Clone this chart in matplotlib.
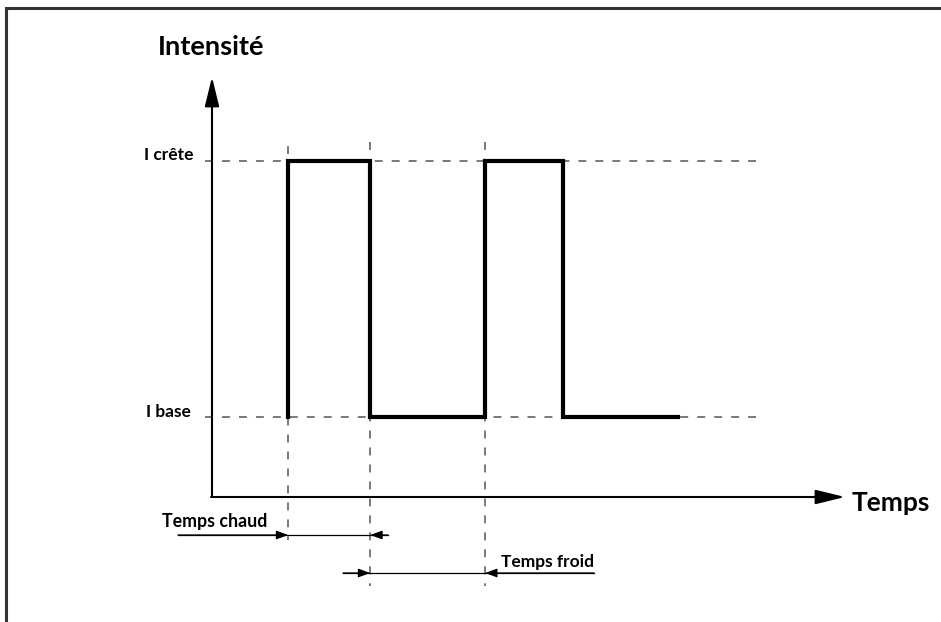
import matplotlib
matplotlib.use("Agg")
import matplotlib.pyplot as plt
from matplotlib.lines import Line2D

# ---- data (diagram values) ----
level_names = ["I crête", "I base"]
I_crete = 4.2
I_base = 1.0
pulse_times = [0.93, 1.93, 3.33, 4.28, 5.68]   # rise1, fall1, rise2, fall2, end
wave_t = [pulse_times[0], pulse_times[0], pulse_times[1], pulse_times[1],
          pulse_times[2], pulse_times[2], pulse_times[3], pulse_times[3], pulse_times[4]]
wave_i = [I_base, I_crete, I_crete, I_base, I_base, I_crete, I_crete, I_base, I_base]
axis_labels = ["Intensité", "Temps"]
interval_labels = ["Temps chaud", "Temps froid"]

W, H, DPI = 941, 622, 100
fig = plt.figure(figsize=(W / DPI, H / DPI), dpi=DPI)
ax = fig.add_axes([0, 0, 1, 1])
# pixel mapping: x_px = 212 + 82 t ; y_px(from top) = 497 - 80 I
ax.set_xlim(-212 / 82, (W - 212) / 82)
ax.set_ylim(-(H - 497) / 80, 497 / 80)
ax.axis("off")

def px_t(x):
    return (x - 212) / 82
def px_i(y):
    return (497 - y) / 80

FN = ["Lato", "DejaVu Sans"]
dash_col = "#6e6e6e"
dash_kw = dict(color=dash_col, lw=1.3, dashes=(4.4, 5.0), zorder=1)

# frame (left + top)
fig.add_artist(Line2D([6 / W, 6 / W], [0, 1 - 8 / H], color="#333333", lw=2.2, transform=fig.transFigure))
fig.add_artist(Line2D([6 / W, 1], [1 - 8 / H, 1 - 8 / H], color="#333333", lw=2.2, transform=fig.transFigure))

# dashed reference levels
ax.plot([px_t(205), px_t(762)], [I_crete, I_crete], **dash_kw)
ax.plot([px_t(205), px_t(762)], [I_base, I_base], **dash_kw)
# dashed verticals
ax.plot([pulse_times[0]] * 2, [px_i(146), px_i(540)], **dash_kw)
ax.plot([pulse_times[1]] * 2, [px_i(142), px_i(586)], **dash_kw)
ax.plot([pulse_times[2]] * 2, [px_i(142), px_i(586)], **dash_kw)

# square wave
ax.plot(wave_t, wave_i, color="black", lw=3.0, solid_joinstyle="miter", zorder=3)

# axes with arrows
ax.annotate("", xy=(0, px_i(77)), xytext=(0, 0),
            arrowprops=dict(arrowstyle="-|>,head_length=0.9,head_width=0.22",
                            mutation_scale=20, color="black", lw=1.5, shrinkA=0, shrinkB=0), zorder=4)
ax.annotate("", xy=(px_t(845), 0), xytext=(-0.012, 0),
            arrowprops=dict(arrowstyle="-|>,head_length=0.9,head_width=0.22",
                            mutation_scale=20, color="black", lw=1.5, shrinkA=0, shrinkB=0), zorder=4)

ax.text(px_t(211), px_i(47), axis_labels[0], fontsize=19.5, family=FN, ha="center", va="center", fontweight="bold")
ax.text(px_t(852), px_i(503), axis_labels[1], fontsize=19, family=FN, ha="left", va="center", fontweight="bold")
ax.text(px_t(193), I_crete + 0.07, level_names[0], fontsize=12.5, family=FN, ha="right", va="center", fontweight="bold")
ax.text(px_t(191), I_base + 0.06, level_names[1], fontsize=12.5, family=FN, ha="right", va="center", fontweight="bold")

# interval arrows
small = dict(arrowstyle="-|>,head_length=0.6,head_width=0.22", mutation_scale=12,
             color="black", lw=0.9, shrinkA=0, shrinkB=0)
yc = px_i(535)
ax.plot([px_t(178), px_t(388)], [yc, yc], color="black", lw=0.9)
ax.annotate("", xy=(pulse_times[0], yc), xytext=(px_t(178), yc), arrowprops=small)
ax.annotate("", xy=(pulse_times[1], yc), xytext=(px_t(388), yc), arrowprops=small)
ax.text(px_t(162), px_i(521), interval_labels[0], fontsize=12.8, family=FN, ha="left", va="center", fontweight="bold")

yf = px_i(573)
ax.plot([px_t(343), px_t(594)], [yf, yf], color="black", lw=0.9)
ax.annotate("", xy=(pulse_times[1], yf), xytext=(px_t(343), yf), arrowprops=small)
ax.annotate("", xy=(pulse_times[2], yf), xytext=(px_t(594), yf), arrowprops=small)
ax.text(px_t(501), px_i(562), interval_labels[1], fontsize=12.5, family=FN, ha="left", va="center", fontweight="bold")

fig.savefig("out.png", dpi=DPI)
